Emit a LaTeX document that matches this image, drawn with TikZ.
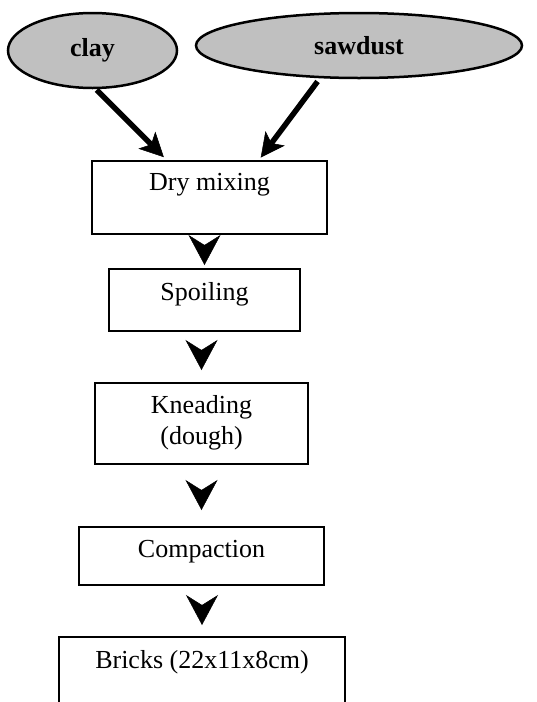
\documentclass[tikz,border=0pt]{standalone}
\usepackage{fontspec}
\setmainfont{Liberation Serif}
\usetikzlibrary{shapes.geometric,arrows.meta}
\definecolor{srcgray}{HTML}{C0C0C0}
\tikzset{
	source/.style={ellipse, draw, line width=2.5pt, fill=srcgray, inner sep=0pt, font=\bfseries\fontsize{26}{30}\selectfont},
	stepbox/.style={draw, line width=1.5pt, inner sep=0pt, anchor=north, font=\fontsize{26}{31}\selectfont},
	feed/.style={line width=5.5pt, -{Stealth[line width=0.5pt, length=24pt, width=24pt, inset=6pt]}},
	flow/.style={draw=white, line width=1pt, -{Stealth[black, line width=0.5pt, length=30pt, width=32pt, inset=10pt]}}
}
\begin{document}
\begin{tikzpicture}[x=1pt, y=-1pt]
			\clip (0,0) rectangle (536,702);
			\node[source, minimum width=169pt, minimum height=75pt] (clay) at (92.5,50.5) {clay};
			\node[source, minimum width=326pt, minimum height=65pt] (sawdust) at (359,45.5) {sawdust};
			\node[stepbox, minimum width=235pt, text height=30pt, text depth=43pt] (dry) at (209.5,160) {Dry mixing};
			\node[stepbox, minimum width=191pt, text height=32pt, text depth=30pt] (spoil) at (204.5,268) {Spoiling};
			\node[stepbox, minimum width=213pt, minimum height=81pt, align=center] (knead) at (201.5,382) {Kneading\\(dough)};
			\node[stepbox, minimum width=245pt, text height=31pt, text depth=27pt] (comp) at (201.5,526) {Compaction};
			\node[stepbox, minimum width=286pt, text height=32pt, text depth=80pt] (bricks) at (202,636) {Bricks (22x11x8cm)};
			\draw[feed, shorten <=1pt, shorten >=4pt] (clay.-85) -- (dry.139);
			\draw[feed, shorten <=4pt, shorten >=3pt] (sawdust.220) -- (dry.37);
			\draw[flow, shorten <=2pt, shorten >=3pt] (spoil.north |- dry.south) -- (spoil.north);
			\draw[flow, shorten <=9pt, shorten >=12pt] (knead.north |- spoil.south) -- (knead.north);
			\draw[flow, shorten <=14pt, shorten >=16pt] (comp.north |- knead.south) -- (comp.north);
			\draw[flow, shorten <=9pt, shorten >=11pt] (bricks.north |- comp.south) -- (bricks.north);
		\end{tikzpicture}
\end{document}
